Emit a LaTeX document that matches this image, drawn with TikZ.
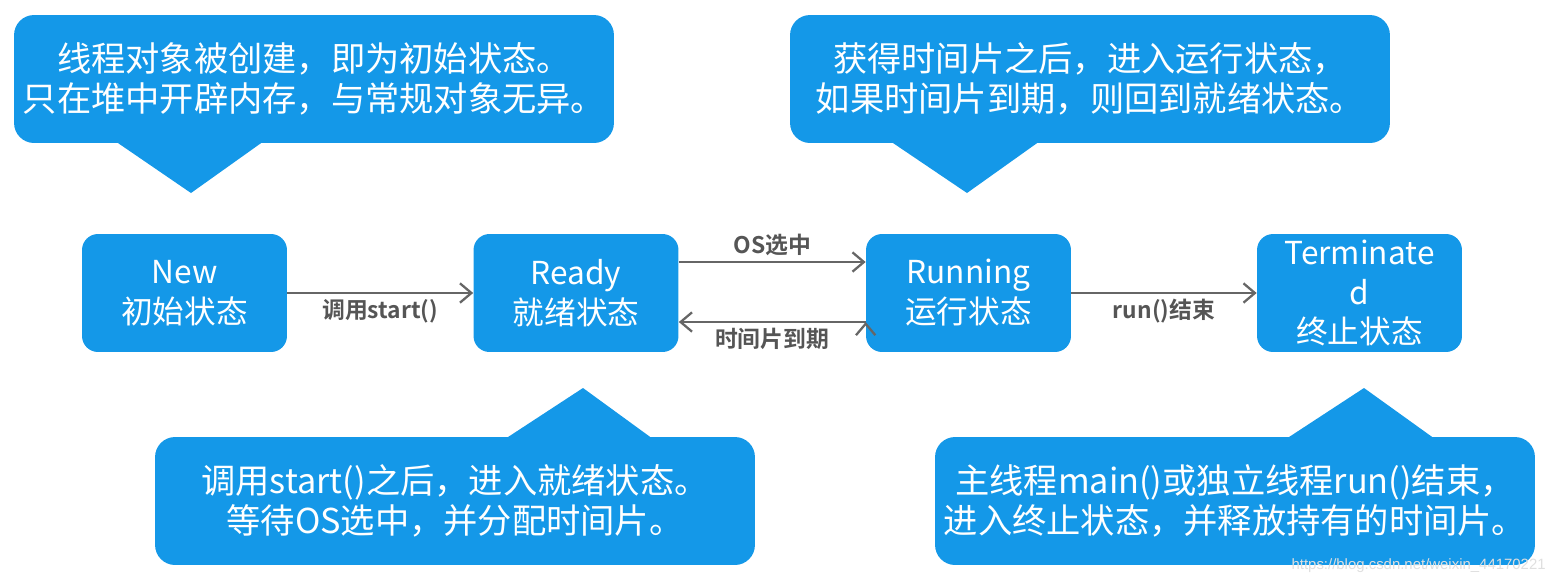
\documentclass[tikz,border=0pt]{standalone}
\usepackage{fontspec}
\setmainfont{Noto Sans CJK SC}[BoldFont={Noto Sans CJK SC Bold}]
\newfontfamily\urlfont{Liberation Sans}
\usetikzlibrary{arrows.meta}
\definecolor{stateblue}{RGB}{20,152,232}
\definecolor{arrowgray}{RGB}{102,102,102}
\definecolor{labelgray}{RGB}{85,85,85}
\tikzstyle{stbox} = [rectangle, fill=stateblue, text=white, rounded corners=0.32cm,
    minimum width=4.1cm, minimum height=2.36cm, align=center, inner sep=0pt,
    font=\fontsize{18pt}{22.7pt}\selectfont]
\tikzstyle{note} = [rectangle, fill=stateblue, text=white, rounded corners=0.4cm,
    minimum width=12cm, minimum height=2.56cm, align=center, inner sep=0pt,
    font=\fontsize{19.5pt}{22.7pt}\selectfont]
\tikzstyle{ptr} = [fill=stateblue]
\tikzstyle{lbl} = [text=labelgray, font=\fontsize{13pt}{15pt}\selectfont\bfseries, inner sep=3pt]
\tikzstyle{trans} = [->, >={Straight Barb[length=6.5pt,width=11pt]}, draw=arrowgray, line width=1.3pt]

\begin{document}
\begin{tikzpicture}[x=0.02cm, y=0.02cm]
  \useasboundingbox (0,0) rectangle (1553,-586);

  % states
  \node[stbox] (new)  at (184.5,-293)  {New\\初始状态};
  \node[stbox] (rdy)  at (576,-293)    {Ready\\就绪状态};
  \node[stbox] (run)  at (968.5,-293)  {Running\\运行状态};
  \node[stbox] (term) at (1359.5,-293) {Terminate\\d\\终止状态};

  % notes
  \fill[ptr] (115,-141) -- (191,-193) -- (264,-141) -- cycle;
  \fill[ptr] (890,-141) -- (967,-193) -- (1040,-141) -- cycle;
  \fill[ptr] (505,-439) -- (583,-388) -- (653,-439) -- cycle;
  \fill[ptr] (1286,-439) -- (1364,-388) -- (1435,-439) -- cycle;
  \node[note] (n1) at (314,-79)   {线程对象被创建，即为初始状态。\\只在堆中开辟内存，与常规对象无异。};
  \node[note] (n2) at (1090,-79)  {获得时间片之后，进入运行状态，\\如果时间片到期，则回到就绪状态。};
  \node[note] (n3) at (455,-501)  {调用start()之后，进入就绪状态。\\等待OS选中，并分配时间片。};
  \node[note] (n4) at (1235,-501) {主线程main()或独立线程run()结束，\\进入终止状态，并释放持有的时间片。};

  \path[trans] (new) edge node[lbl,below] {调用start()} (rdy)
        ([yshift=0.62cm]rdy.east) edge node[lbl,above] {OS选中} ([yshift=0.62cm]run.west)
        ([yshift=-0.58cm]run.west) edge node[lbl,below] {时间片到期} ([yshift=-0.58cm]rdy.east)
        (run) edge node[lbl,below] {run()结束} (term);

  \node[font=\urlfont\fontsize{8.5pt}{10pt}\selectfont, text=gray!25, anchor=east, inner sep=0pt]
    (wm) at (1546,-566) {https://blog.csdn.net/weixin\_44170221};
\end{tikzpicture}
\end{document}
